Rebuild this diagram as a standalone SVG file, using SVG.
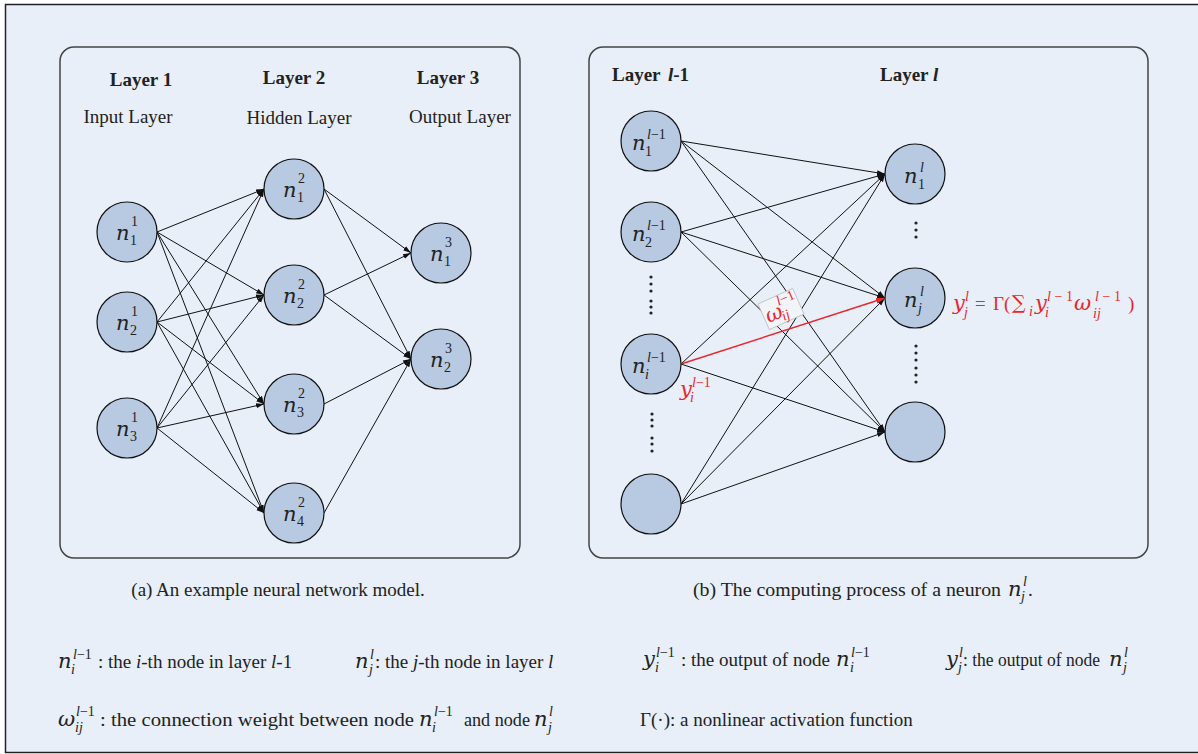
<svg xmlns="http://www.w3.org/2000/svg" width="1198" height="754" viewBox="0 0 1198 754">
<defs>
<style>
.bg{fill:#e8eff8;stroke:#222;stroke-width:1.5}
.panel{fill:none;stroke:#444;stroke-width:1.5}
.node{fill:#b8c9e2;stroke:#111;stroke-width:1.2}
.e{stroke:#111;stroke-width:1;fill:none;marker-end:url(#arr)}
.er{stroke:#e8262b;stroke-width:1.4;fill:none;marker-end:url(#arrR)}
.t{font-family:"Liberation Serif","Times New Roman",serif;font-size:19px;fill:#222}
.b{font-family:"Liberation Serif","Times New Roman",serif;font-size:19px;font-weight:bold;fill:#222}
.n{font-family:"DejaVu Serif",serif;font-size:21px;font-style:italic;fill:#222}
.s{font-family:"Liberation Serif","Times New Roman",serif;font-size:14px;fill:#222}
.i{font-style:italic}
.red{fill:#e8262b}
.dot{fill:#222}
</style>
<marker id="arr" viewBox="0 0 10 10" refX="10" refY="5" markerWidth="8" markerHeight="8" markerUnits="userSpaceOnUse" orient="auto"><path d="M0,1.8 L10,5 L0,8.2 z" fill="#111"/></marker>
<marker id="arrR" viewBox="0 0 10 10" refX="10" refY="5" markerWidth="9" markerHeight="9" markerUnits="userSpaceOnUse" orient="auto"><path d="M0,1.8 L10,5 L0,8.2 z" fill="#e8262b"/></marker>
</defs>
<rect x="0" y="0" width="1198" height="754" fill="#fff"/>
<rect class="bg" x="5.5" y="4.5" width="1200" height="748"/>
<rect class="panel" x="60" y="47" width="460" height="511" rx="14"/>
<rect class="panel" x="589" y="47" width="559" height="511" rx="14"/>

<g id="titles">
<text class="b" x="141" y="86" text-anchor="middle">Layer 1</text>
<text class="b" x="294" y="84" text-anchor="middle">Layer 2</text>
<text class="b" x="448" y="84" text-anchor="middle">Layer 3</text>
<text class="t" x="128" y="123" text-anchor="middle">Input Layer</text>
<text class="t" x="299" y="124" text-anchor="middle">Hidden Layer</text>
<text class="t" x="460" y="123" text-anchor="middle">Output Layer</text>
<text class="b" x="612" y="81">Layer<tspan x="668" class="i">l</tspan>-1</text>
<text class="b" x="880" y="81">Layer <tspan class="i">l</tspan></text>
</g>

<g id="connectors">
<line class="e" x1="157" y1="232" x2="264" y2="189"/>
<line class="e" x1="157" y1="232" x2="264" y2="295"/>
<line class="e" x1="157" y1="232" x2="264" y2="404"/>
<line class="e" x1="157" y1="232" x2="264" y2="513"/>
<line class="e" x1="157" y1="322" x2="264" y2="189"/>
<line class="e" x1="157" y1="322" x2="264" y2="295"/>
<line class="e" x1="157" y1="322" x2="264" y2="404"/>
<line class="e" x1="157" y1="322" x2="264" y2="513"/>
<line class="e" x1="157" y1="428" x2="264" y2="189"/>
<line class="e" x1="157" y1="428" x2="264" y2="295"/>
<line class="e" x1="157" y1="428" x2="264" y2="404"/>
<line class="e" x1="157" y1="428" x2="264" y2="513"/>
<line class="e" x1="324" y1="189" x2="411" y2="253"/>
<line class="e" x1="324" y1="189" x2="411" y2="359"/>
<line class="e" x1="324" y1="295" x2="411" y2="253"/>
<line class="e" x1="324" y1="295" x2="411" y2="359"/>
<line class="e" x1="324" y1="404" x2="411" y2="359"/>
<line class="e" x1="324" y1="513" x2="411" y2="359"/>

<line class="e" x1="681" y1="141" x2="885" y2="174"/>
<line class="e" x1="681" y1="141" x2="885" y2="298"/>
<line class="e" x1="681" y1="141" x2="885" y2="432"/>
<line class="e" x1="681" y1="232" x2="885" y2="174"/>
<line class="e" x1="681" y1="232" x2="885" y2="298"/>
<line class="e" x1="681" y1="232" x2="885" y2="432"/>
<line class="e" x1="681" y1="364" x2="885" y2="174"/>
<line class="e" x1="681" y1="364" x2="885" y2="432"/>
<line class="e" x1="681" y1="504" x2="885" y2="174"/>
<line class="e" x1="681" y1="504" x2="885" y2="298"/>
<line class="e" x1="681" y1="504" x2="885" y2="432"/>
<g transform="translate(781,309) rotate(-24)">
<rect x="-19" y="-14" width="38" height="28" fill="#f1f5fa" stroke="#bdbdbd" stroke-width="0.8"/>
<text class="n red" x="-17" y="8" font-size="19">ω</text>
<text class="s red i" x="-1" y="-4" font-size="15">l<tspan font-style="normal">−1</tspan></text>
<text class="s red i" x="-2" y="12" font-size="14">ij</text>
</g>
<line class="er" x1="681" y1="364" x2="885" y2="298"/>
</g>

<g id="n1_1"><circle class="node" cx="127" cy="232" r="30"/><text class="n" x="116" y="240">n</text><text class="s" x="131" y="226">1</text><text class="s" x="130" y="245">1</text></g>
<g id="n2_1"><circle class="node" cx="127" cy="322" r="30"/><text class="n" x="116" y="330">n</text><text class="s" x="131" y="316">1</text><text class="s" x="130" y="335">2</text></g>
<g id="n3_1"><circle class="node" cx="127" cy="428" r="30"/><text class="n" x="116" y="436">n</text><text class="s" x="131" y="422">1</text><text class="s" x="130" y="441">3</text></g>
<g id="n1_2"><circle class="node" cx="294" cy="189" r="30"/><text class="n" x="283" y="197">n</text><text class="s" x="298" y="183">2</text><text class="s" x="297" y="202">1</text></g>
<g id="n2_2"><circle class="node" cx="294" cy="295" r="30"/><text class="n" x="283" y="303">n</text><text class="s" x="298" y="289">2</text><text class="s" x="297" y="308">2</text></g>
<g id="n3_2"><circle class="node" cx="294" cy="404" r="30"/><text class="n" x="283" y="412">n</text><text class="s" x="298" y="398">2</text><text class="s" x="297" y="417">3</text></g>
<g id="n4_2"><circle class="node" cx="294" cy="513" r="30"/><text class="n" x="283" y="521">n</text><text class="s" x="298" y="507">2</text><text class="s" x="297" y="526">4</text></g>
<g id="n1_3"><circle class="node" cx="441" cy="253" r="30"/><text class="n" x="430" y="261">n</text><text class="s" x="445" y="247">3</text><text class="s" x="444" y="266">1</text></g>
<g id="n2_3"><circle class="node" cx="441" cy="359" r="30"/><text class="n" x="430" y="367">n</text><text class="s" x="445" y="353">3</text><text class="s" x="444" y="372">2</text></g>

<g id="nb1"><circle class="node" cx="651" cy="141" r="30"/><text class="n" x="632" y="150">n</text><text class="s i" x="647" y="139" font-size="16">l<tspan font-style="normal">−1</tspan></text><text class="s" x="645" y="156">1</text></g>
<g id="nb2"><circle class="node" cx="651" cy="232" r="30"/><text class="n" x="632" y="241">n</text><text class="s i" x="647" y="230" font-size="16">l<tspan font-style="normal">−1</tspan></text><text class="s" x="645" y="247">2</text></g>
<g id="nbi"><circle class="node" cx="651" cy="364" r="30"/><text class="n" x="632" y="373">n</text><text class="s i" x="647" y="362" font-size="16">l<tspan font-style="normal">−1</tspan></text><text class="s i" x="645" y="379">i</text></g>
<g id="nblast"><circle class="node" cx="651" cy="504" r="30"/></g>
<g id="nr1"><circle class="node" cx="915" cy="174" r="30"/><text class="n" x="904" y="183">n</text><text class="s i" x="920" y="172">l</text><text class="s" x="918" y="189">1</text></g>
<g id="nrj"><circle class="node" cx="915" cy="298" r="30"/><text class="n" x="904" y="307">n</text><text class="s i" x="920" y="296">l</text><text class="s i" x="918" y="313">j</text></g>
<g id="nrlast"><circle class="node" cx="915" cy="432" r="30"/></g>

<g id="dots">
<circle class="dot" cx="651" cy="277" r="1.6"/><circle class="dot" cx="651" cy="284" r="1.6"/><circle class="dot" cx="651" cy="291" r="1.6"/>
<circle class="dot" cx="651" cy="301" r="1.6"/><circle class="dot" cx="651" cy="307" r="1.6"/><circle class="dot" cx="651" cy="313" r="1.6"/>
<circle class="dot" cx="652" cy="414" r="1.6"/><circle class="dot" cx="652" cy="420" r="1.6"/><circle class="dot" cx="652" cy="426" r="1.6"/>
<circle class="dot" cx="652" cy="438" r="1.6"/><circle class="dot" cx="652" cy="444" r="1.6"/><circle class="dot" cx="652" cy="451" r="1.6"/>
<circle class="dot" cx="916" cy="223" r="1.6"/><circle class="dot" cx="916" cy="230" r="1.6"/><circle class="dot" cx="916" cy="237" r="1.6"/>
<circle class="dot" cx="916" cy="346" r="1.6"/><circle class="dot" cx="916" cy="353" r="1.6"/><circle class="dot" cx="916" cy="360" r="1.6"/>
<circle class="dot" cx="916" cy="368" r="1.6"/><circle class="dot" cx="916" cy="375" r="1.6"/><circle class="dot" cx="916" cy="382" r="1.6"/>
</g>

<g id="red-labels">
<text class="n red" x="680" y="396" font-size="20">y</text><text class="s red i" x="692" y="387" font-size="16">l<tspan font-style="normal">−1</tspan></text><text class="s red i" x="690" y="402" font-size="14">i</text>
<text class="n red" x="953" y="310" font-size="20">y</text><text class="s red i" x="965" y="301">l</text><text class="s red i" x="964" y="317">j</text>
<text class="t red" x="975" y="310" font-size="24">=</text>
<text class="t red" x="993" y="310" font-size="22">Γ(</text>
<text class="red" x="1012" y="309" font-family="DejaVu Serif, serif" font-size="19">∑</text><text class="s red i" x="1029" y="316">i</text>
<text class="n red" x="1035" y="310" font-size="20">y</text><text class="s red i" x="1047" y="301" font-size="16" textLength="26">l<tspan font-style="normal">−1</tspan></text><text class="s red i" x="1045" y="317">i</text>
<text class="n red" x="1074" y="310" font-size="20">ω</text><text class="s red i" x="1095" y="301" font-size="16" textLength="26">l<tspan font-style="normal">−1</tspan></text><text class="s red i" x="1093" y="318">ij</text>
<text class="t red" x="1128" y="310" font-size="22">)</text>
</g>

<g id="captions">
<text class="t" x="278" y="596" text-anchor="middle">(a) An example neural network model.</text>
<text class="t" x="693" y="596" font-size="20" textLength="308" lengthAdjust="spacingAndGlyphs">(b) The computing process of a neuron</text>
<text class="n" x="1008" y="596">n</text><text class="s i" x="1023" y="586">l</text><text class="s i" x="1021" y="601">j</text><text class="t" x="1028" y="596">.</text>
</g>

<g id="legend">
<text class="n" x="58" y="668">n</text><text class="s i" x="73" y="659" font-size="16">l<tspan font-style="normal">−1</tspan></text><text class="s i" x="71" y="674">i</text>
<text class="t" x="98" y="668">: the <tspan class="i">i</tspan>-th node in layer <tspan class="i">l</tspan>-1</text>
<text class="n" x="355" y="668">n</text><text class="s i" x="370" y="659">l</text><text class="s i" x="369" y="674">j</text>
<text class="t" x="375" y="668">: the <tspan class="i">j</tspan>-th node in layer <tspan class="i">l</tspan></text>

<text class="n" x="58" y="726">ω</text><text class="s i" x="76" y="716" font-size="16">l<tspan font-style="normal">−1</tspan></text><text class="s i" x="75" y="732">ij</text>
<text class="t" x="100" y="726" font-size="20" textLength="314" lengthAdjust="spacingAndGlyphs">: the connection weight between node</text>
<text class="n" x="419" y="726">n</text><text class="s i" x="434" y="716" font-size="16">l<tspan font-style="normal">−1</tspan></text><text class="s i" x="432" y="732">i</text>
<text class="t" x="464" y="726" font-size="20" textLength="66" lengthAdjust="spacingAndGlyphs">and node</text>
<text class="n" x="534" y="726">n</text><text class="s i" x="549" y="716">l</text><text class="s i" x="548" y="732">j</text>

<text class="n" x="643" y="666">y</text><text class="s i" x="656" y="657" font-size="16">l<tspan font-style="normal">−1</tspan></text><text class="s i" x="655" y="672">i</text>
<text class="t" x="681" y="666">: the output of node</text>
<text class="n" x="836" y="666">n</text><text class="s i" x="851" y="657" font-size="16">l<tspan font-style="normal">−1</tspan></text><text class="s i" x="850" y="672">i</text>
<text class="n" x="946" y="666">y</text><text class="s i" x="959" y="657">l</text><text class="s i" x="958" y="672">j</text>
<text class="t" x="963" y="666" textLength="137" lengthAdjust="spacingAndGlyphs">: the output of node</text>
<text class="n" x="1109" y="666">n</text><text class="s i" x="1124" y="657">l</text><text class="s i" x="1123" y="672">j</text>

<text class="t" x="640" y="726" font-size="20">Γ(·): a nonlinear activation function</text>
</g>
</svg>
